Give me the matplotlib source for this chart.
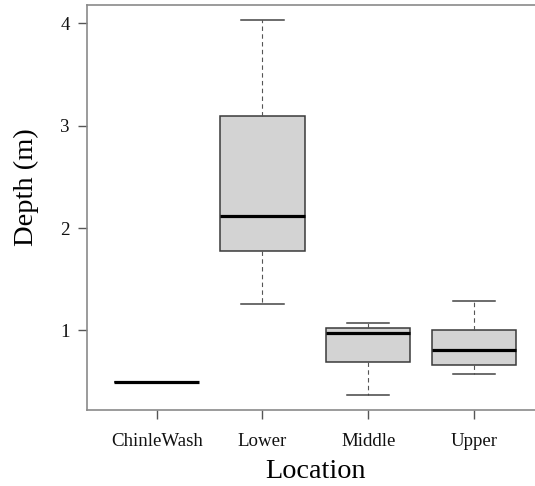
import matplotlib
matplotlib.use("Agg")
import matplotlib.pyplot as plt

# values
locations = ["ChinleWash", "Lower", "Middle", "Upper"]
whisker_low = [0.50, 1.26, 0.37, 0.57]
q1 = [0.50, 1.78, 0.69, 0.66]
median = [0.50, 2.12, 0.97, 0.81]
q3 = [0.50, 3.10, 1.02, 1.00]
whisker_high = [0.50, 4.03, 1.07, 1.29]
y_ticks = [1, 2, 3, 4]

plt.rcParams["font.family"] = ["Liberation Serif", "DejaVu Serif"]

stats = []
for i, name in enumerate(locations):
    stats.append({
        "label": name,
        "whislo": whisker_low[i],
        "q1": q1[i],
        "med": median[i],
        "q3": q3[i],
        "whishi": whisker_high[i],
        "fliers": [],
    })

fig = plt.figure(figsize=(5.35, 4.86), dpi=100)
# right edge of the plot frame is cropped in the reference
ax = fig.add_axes([87 / 535, 1 - 410 / 486, (543.7 - 87) / 535, (410 - 5.4) / 486])

edge = "#3a3a3a"
ax.bxp(
    stats,
    positions=range(1, len(locations) + 1),
    widths=0.8,
    patch_artist=True,
    showfliers=False,
    boxprops=dict(facecolor="#d3d3d3", edgecolor=edge, linewidth=1.1),
    medianprops=dict(color="black", linewidth=2.3, solid_capstyle="butt"),
    whiskerprops=dict(color="#555555", linewidth=0.8, linestyle=(0, (4, 3))),
    capprops=dict(color="#444444", linewidth=1.1),
    capwidths=0.4,
)

ax.set_xlim(0.34, 4.66)
ax.set_ylim(0.222, 4.176)
ax.set_yticks(y_ticks)
ax.set_yticklabels([str(t) for t in y_ticks])
ax.set_xticks(range(1, len(locations) + 1))
ax.set_xticklabels(locations)

for s in ax.spines.values():
    s.set_color("#8a8a8a")
    s.set_linewidth(1.2)

ax.tick_params(axis="both", colors="#555555", labelcolor="#111111",
               labelsize=13.6, length=6.5, width=1.0)
ax.tick_params(axis="y", pad=6)
ax.tick_params(axis="x", pad=10)

ax.set_xlabel("Location", fontsize=20.3, labelpad=6.5)
ax.set_ylabel("Depth (m)", fontsize=20.5)
ax.yaxis.set_label_coords(-0.105, 0.551)

fig.savefig("out.png", dpi=100)
